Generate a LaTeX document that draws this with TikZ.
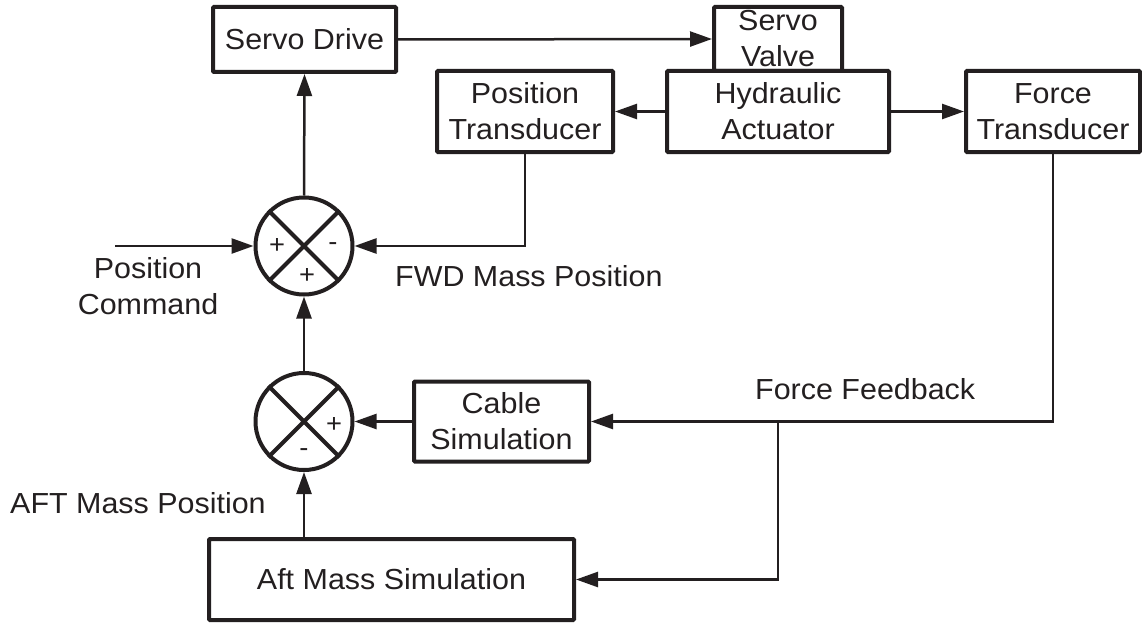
\documentclass[tikz,border=0pt]{standalone}
\usepackage{fontspec}
\setmainfont{Liberation Sans}[FakeStretch=1.05]
\usepackage{tikz}
\usetikzlibrary{arrows.meta}
\definecolor{ink}{RGB}{35,31,32}
\tikzset{>={Triangle[length=22pt,width=15pt]}}
\tikzset{
  block/.style={draw=ink, line width=4pt, rounded corners=1pt, inner sep=0pt, align=center,
    text=ink, font=\fontsize{29}{36}\selectfont},
  sumnode/.style={draw=ink, circle, line width=4pt, minimum size=97pt, inner sep=0pt},
  sign/.style={text=ink, inner sep=0pt, font=\fontsize{26}{26}\selectfont},
  txt/.style={text=ink, inner sep=0pt, align=center, font=\fontsize{29}{36}\selectfont},
  wire/.style={draw=ink, line width=2.5pt}
}

\begin{document}
\begin{tikzpicture}[x=1pt,y=-1pt]
    \useasboundingbox (0,0) rectangle (1142,623);
    % blocks
    \node[block, minimum width=183pt, minimum height=65pt] (drive) at (304.5,39.5) {Servo Drive};
    \node[block, minimum width=128pt, minimum height=64pt] (valve) at (778,39) {Servo\\Valve};
    \node[block, minimum width=222pt, minimum height=81pt] (act) at (778,111.5) {Hydraulic\\Actuator};
    \node[block, minimum width=176pt, minimum height=81pt] (pos) at (525,111.5) {Position\\Transducer};
    \node[block, minimum width=174pt, minimum height=81pt] (force) at (1053,111.5) {Force\\Transducer};
    \node[block, minimum width=175pt, minimum height=80pt] (cable) at (501.5,421.5) {Cable\\Simulation};
    \node[block, minimum width=365pt, minimum height=81pt] (aft) at (391.5,579.5) {Aft Mass Simulation};
    % summing points
    \node[sumnode] (s1) at (304,246) {};
    \node[sumnode] (s2) at (304,421.5) {};
    \draw[ink, line width=4pt] (s1.45) -- (s1.225) (s1.135) -- (s1.-45);
    \draw[ink, line width=4pt] (s2.45) -- (s2.225) (s2.135) -- (s2.-45);
    \node[sign] (s1a) at (277,246) {+};
    \node[sign] (s1b) at (333,247) {-};
    \node[sign] (s1c) at (307,276) {+};
    \node[sign] (s2a) at (334,425) {+};
    \node[sign] (s2b) at (304,453) {-};
    % texts
    \node[txt] (cmdtxt) at (148,286.5) {Position\\Command};
    \node[txt, anchor=west] (fwdtxt) at (395,276) {FWD Mass Position};
    \node[txt, anchor=west] (fbtxt) at (755,389) {Force Feedback};
    \node[txt, anchor=west] (afttxt) at (10,503) {AFT Mass Position};
    % connectors
    \coordinate (cmd) at (115,246);
    \coordinate (split) at (778,421.5);
    \draw[wire,->] (cmd) -- (s1.west);
    \draw[wire,->] (s1.north) -- (drive.south);
    \draw[wire,->] (drive.east) -- (valve.west);
    \draw[wire,->] (act.west) -- (pos.east);
    \draw[wire,->] (act.east) -- (force.east -| force.west);
    \draw[wire,->] (pos.south) |- (s1.east);
    \draw[wire,->] (force.south) |- (cable.east);
    \draw[wire,->] (split) |- (aft.east);
    \draw[wire,->] (cable.west) -- (s2.east);
    \draw[wire,->] (s2.north) -- (s1.south);
    \draw[wire,->] (s2 |- aft.north) -- (s2.south);
  \end{tikzpicture}
\end{document}
